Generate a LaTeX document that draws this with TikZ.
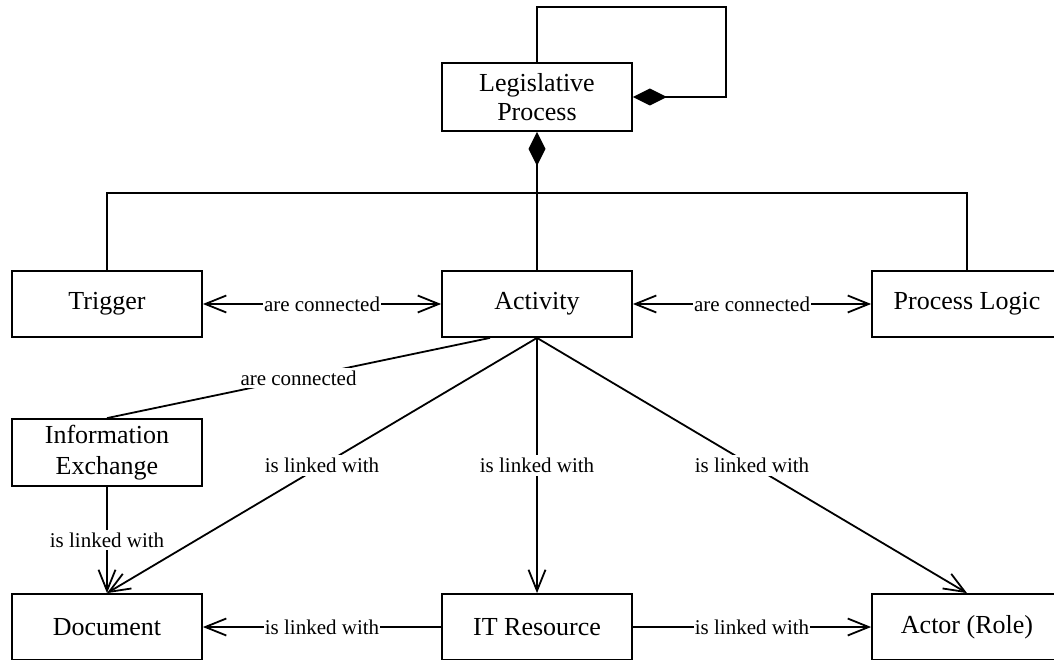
\documentclass[tikz,border=0pt]{standalone}
\usepackage{fontspec}
\setmainfont{Liberation Serif}
\usetikzlibrary{arrows.meta,calc}

\tikzset{
  block/.style={draw, line width=1.8pt, fill=white, minimum width=190pt,
    minimum height=66pt, inner sep=2pt, align=center,
    font=\fontsize{26}{29}\selectfont},
  link/.style={line width=1.8pt},
  lbl/.style={fill=white, inner xsep=1pt, inner ysep=3pt,
    font=\fontsize{21}{24}\selectfont},
  openhead/.tip={Straight Barb[length=21pt, width=17pt, line width=1.8pt]},
  compose/.style={link, {Diamond[length=34pt, width=17pt, fill=black]}-},
  assoc/.style={link, -openhead},
  assoc2/.style={link, openhead-openhead},
}

\begin{document}
\begin{tikzpicture}[x=1pt, y=-1pt]
  \useasboundingbox (0,0) rectangle (1054,660);

  % class boxes
  \node[block, minimum height=68pt] (lp) at (537,97) {Legislative\\Process};
  \node[block] (trig) at (107,304) {Trigger};
  \node[block] (act)  at (537,304) {Activity};
  \node[block] (pl)   at (967,304) {Process Logic};
  \node[block, minimum height=67pt, font=\fontsize{26}{31}\selectfont] (ie) at (107,452.5) {Information\\Exchange};
  \node[block] (doc)   at (107,627) {Document};
  \node[block] (itr)   at (537,627) {IT Resource};
  \node[block] (actor) at (967,627) {Actor (Role)};

  % helper points for the routed lines
  \coordinate (loop) at (726,7);
  \coordinate (bus) at (537,193);
  \coordinate (ieport) at ($(act.south)+(-47,0)$);

  % composition: the process contains itself
  \draw[compose] (lp.east) -| (loop) -| (lp.north);

  % composition: the process contains trigger, activity, process logic
  \draw[compose] (lp.south) -- (bus);
  \draw[link] (trig.north) |- (bus) -| (pl.north);
  \draw[link] (act.north) -- (bus);

  % associations among the elements
  \draw[assoc2] (trig.east) -- node[lbl] {are connected} (act.west);
  \draw[assoc2] (act.east) -- node[lbl] {are connected} (pl.west);
  \draw[link] (ieport) -- node[lbl] {are connected} (ie.north);

  \draw[assoc] (act.south) -- node[lbl] {is linked with} (doc.north);
  \draw[assoc] (act.south) -- node[lbl] {is linked with} (itr.north);
  \draw[assoc] (act.south) -- node[lbl] {is linked with} (actor.north);
  \draw[assoc] (ie.south) -- node[lbl] {is linked with} (doc.north);

  \draw[assoc] (itr.west) -- node[lbl] {is linked with} (doc.east);
  \draw[assoc] (itr.east) -- node[lbl] {is linked with} (actor.west);
\end{tikzpicture}
\end{document}
